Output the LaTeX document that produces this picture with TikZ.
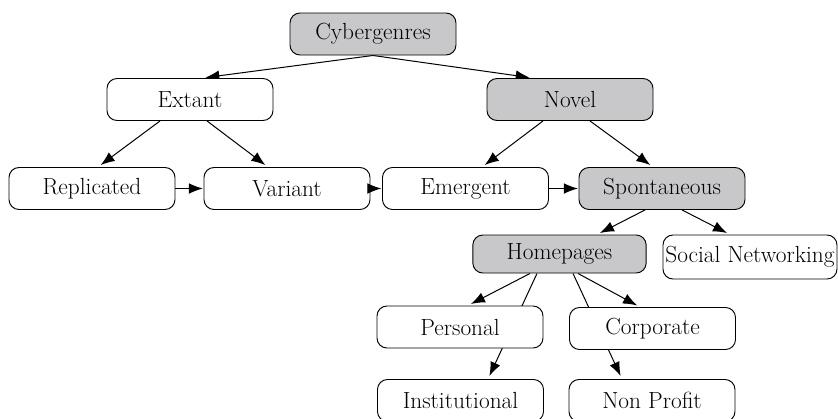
\documentclass[tikz,border=0pt]{standalone}
\usetikzlibrary{arrows.meta,backgrounds,calc}
\definecolor{boxgray}{RGB}{200,200,202}
\begin{document}
\begin{tikzpicture}[x=0.75pt,y=-0.75pt,
  box/.style={draw, rounded corners=7.5pt, fill=white, minimum width=124.5pt,
    minimum height=31.5pt, inner sep=1pt, font=\fontsize{17.5}{21}\selectfont,
    line width=0.7pt},
  hi/.style={box, fill=boxgray},
  arr/.style={-{Latex[length=10.5pt,width=8pt]}, line width=0.75pt, shorten >=2.5pt},
  flat/.style={arr, shorten >=0.5pt}]
\useasboundingbox (0,0) rectangle (838,418);

% genre hierarchy
\node[hi]  (cyb) at (373,34)    {Cybergenres};
\node[box] (ext) at (190,99.5)  {Extant};
\node[hi]  (nov) at (570,99.5)  {Novel};
\node[box] (rep) at (92,188.5)  {Replicated};
\node[box] (var) at (287,188.5) {Variant};
\node[box] (eme) at (465.5,188.5) {Emergent};
\node[hi]  (spo) at (662,188.5) {Spontaneous};
\node[hi, minimum width=130pt, minimum height=28.5pt] (hom) at (559.5,254) {Homepages};
\node[box, minimum width=130.5pt, minimum height=33pt] (soc) at (750,257) {Social Networking};
\node[box] (per) at (460,327)   {Personal};
\node[box] (cor) at (652.5,328.5) {Corporate};
\node[box] (ins) at (460.5,400.5) {Institutional};
\node[box] (non) at (652,400.5) {Non Profit};

% sideways links between the siblings sit on top of the box borders
\draw[flat] (rep.east) -- (var.west);
\draw[flat] (var.east) -- (eme.west);
\draw[flat] (eme.east) -- (spo.west);

% downward connectors run behind the boxes
\begin{scope}[on background layer]
\draw[arr] (cyb.south) -- ($(ext.north)+(12,0)$);
\draw[arr] (cyb.south) -- ($(nov.north)+(-37,0)$);
\draw[arr] ($(ext.south)+(-30,0)$) -- ($(rep.north)+(6,0)$);
\draw[arr] ($(ext.south)+(17,0)$) -- ($(var.north)+(-19,0)$);
\draw[arr] ($(nov.south)+(-27,0)$) -- ($(eme.north)+(16.5,0)$);
\draw[arr] ($(nov.south)+(20,0)$) -- ($(spo.north)+(-9,0)$);
\draw[arr] ($(spo.south)+(-17,0)$) -- ($(hom.north)+(37.5,0)$);
\draw[arr] ($(spo.south)+(20,0)$) -- ($(soc.north)+(-20,0)$);
\draw[arr] ($(hom.south)+(-29.5,0)$) -- ($(per.north)+(8,0)$);
\draw[arr] ($(hom.south)+(18.5,0)$) -- ($(cor.north)+(-12.5,0)$);
\draw[arr] ($(hom.south)+(-22.5,0)$) -- ($(ins.north)+(27.5,0)$);
\draw[arr] ($(hom.south)+(13.5,0)$) -- ($(non.north)+(-30,0)$);
\end{scope}
\end{tikzpicture}
\end{document}
